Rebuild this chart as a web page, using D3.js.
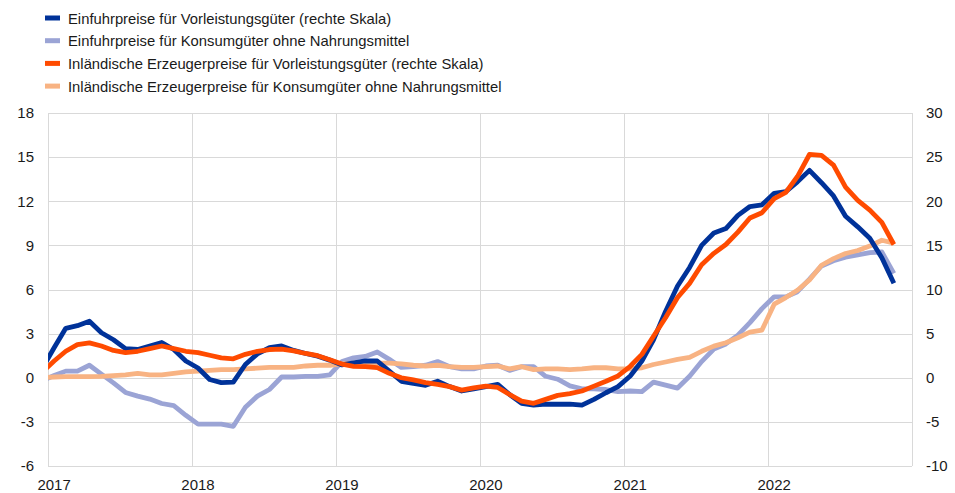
<!DOCTYPE html>
<html>
<head>
<meta charset="utf-8">
<script src="https://cdn.jsdelivr.net/npm/d3@7"></script>
<style>
  body { margin: 0; background: #fff; }
  svg { display: block; font-family: "Liberation Sans", Arial, sans-serif; }
</style>
</head>
<body>
<svg id="chart" width="955" height="493"></svg>
<script>
// monthly values, Dec 2016 .. Nov 2022 (first point sits left of the plot and is clipped)
const startMonth = new Date(2016, 11, 1);

// right scale
const importInter = [1.0, 3.4, 5.6, 5.9, 6.4, 5.1, 4.3, 3.3, 3.2, 3.6, 4.0, 3.2, 1.9,
  1.1, -0.2, -0.55, -0.5, 1.5, 2.7, 3.4, 3.6, 3.1, 2.75, 2.45, 2.0,
  1.45, 1.7, 1.9, 1.9, 0.75, -0.4, -0.65, -0.85, -0.4, -1.0, -1.5, -1.25,
  -1.0, -0.75, -1.9, -2.9, -3.1, -3.0, -3.0, -3.0, -3.1, -2.45, -1.7, -1.0,
  0.2, 1.9, 4.3, 7.5, 10.4, 12.5, 15.0, 16.4, 16.9, 18.4, 19.4, 19.6,
  20.9, 21.1, 22.2, 23.5, 22.1, 20.6, 18.3, 17.1, 15.8, 13.6, 10.7];
// left scale
const importCons = [-0.2, 0.15, 0.45, 0.45, 0.85, 0.25, -0.35, -1.0, -1.25, -1.45, -1.75, -1.9, -2.55,
  -3.15, -3.15, -3.15, -3.3, -2.0, -1.25, -0.8, 0.05, 0.05, 0.1, 0.1, 0.2,
  1.1, 1.35, 1.45, 1.75, 1.25, 0.7, 0.75, 0.85, 1.1, 0.75, 0.6, 0.6,
  0.8, 0.85, 0.5, 0.75, 0.75, 0.1, -0.1, -0.55, -0.75, -0.75, -0.8, -0.95,
  -0.9, -0.95, -0.3, -0.5, -0.7, 0.1, 1.1, 1.95, 2.3, 2.9, 3.75, 4.7,
  5.5, 5.5, 5.85, 6.7, 7.6, 7.95, 8.2, 8.35, 8.5, 8.55, 7.1];
// right scale
const domInter = [0.6, 1.9, 3.0, 3.75, 3.95, 3.6, 3.1, 2.85, 3.0, 3.3, 3.6, 3.3, 3.0,
  2.85, 2.55, 2.25, 2.15, 2.65, 3.0, 3.2, 3.25, 3.05, 2.75, 2.5, 2.05,
  1.55, 1.3, 1.25, 1.15, 0.5, 0.0, -0.25, -0.55, -0.75, -1.0, -1.4, -1.15,
  -0.95, -1.1, -1.9, -2.65, -2.9, -2.45, -2.0, -1.8, -1.5, -0.95, -0.4, 0.2,
  1.3, 2.65, 4.7, 6.8, 9.1, 10.7, 12.8, 14.1, 15.1, 16.5, 18.1, 18.7,
  20.3, 21.0, 22.8, 25.3, 25.2, 24.1, 21.6, 20.1, 19.0, 17.6, 15.1];
// left scale
const domCons = [0.0, 0.05, 0.07, 0.07, 0.07, 0.1, 0.15, 0.2, 0.3, 0.2, 0.2, 0.3, 0.4,
  0.45, 0.5, 0.55, 0.55, 0.6, 0.65, 0.7, 0.7, 0.7, 0.8, 0.85, 0.85,
  0.95, 1.0, 1.0, 1.0, 1.0, 0.95, 0.85, 0.8, 0.85, 0.75, 0.7, 0.7,
  0.75, 0.8, 0.6, 0.75, 0.55, 0.6, 0.6, 0.55, 0.6, 0.68, 0.68, 0.6,
  0.6, 0.68, 0.9, 1.07, 1.25, 1.38, 1.8, 2.15, 2.38, 2.72, 3.1, 3.24,
  5.0, 5.45, 5.95, 6.65, 7.65, 8.1, 8.45, 8.65, 8.95, 9.35, 9.15];

const leftTicks = [-6, -3, 0, 3, 6, 9, 12, 15, 18];
const rightTicks = [-10, -5, 0, 5, 10, 15, 20, 25, 30];
const years = [2017, 2018, 2019, 2020, 2021, 2022];

const series = [
  { name: "Einfuhrpreise für Konsumgüter ohne Nahrungsmittel", values: importCons, axis: "left", color: "#9ba4d5", legend: 1 },
  { name: "Inländische Erzeugerpreise für Konsumgüter ohne Nahrungsmittel", values: domCons, axis: "left", color: "#f8b383", legend: 3 },
  { name: "Einfuhrpreise für Vorleistungsgüter (rechte Skala)", values: importInter, axis: "right", color: "#003299", legend: 0 },
  { name: "Inländische Erzeugerpreise für Vorleistungsgüter (rechte Skala)", values: domInter, axis: "right", color: "#ff4b00", legend: 2 }
];

const svg = d3.select("#chart");
const m = { left: 48, right: 912, top: 113, bottom: 466 };

const x = d3.scaleTime()
  .domain([new Date(2017, 0, 1), new Date(2023, 0, 1)])
  .range([m.left, m.right]);
const yL = d3.scaleLinear().domain([-6, 18]).range([m.bottom, m.top]);
const yR = d3.scaleLinear().domain([-10, 30]).range([m.bottom, m.top]);

// middle of a month on the time axis
function midMonth(d) {
  return (x(d) + x(d3.timeMonth.offset(d, 1))) / 2;
}

// gridlines
const grid = svg.append("g").attr("class", "grid");
grid.selectAll("line.h").data(leftTicks).enter().append("line")
  .attr("x1", m.left).attr("x2", m.right)
  .attr("y1", d => Math.round(yL(d)) + 0.5).attr("y2", d => Math.round(yL(d)) + 0.5)
  .attr("stroke", "#d9d9d9").attr("stroke-width", 1);
grid.selectAll("line.v").data(years.concat([2023])).enter().append("line")
  .attr("x1", d => Math.round(x(new Date(d, 0, 1))) + 0.5)
  .attr("x2", d => Math.round(x(new Date(d, 0, 1))) + 0.5)
  .attr("y1", m.top).attr("y2", m.bottom)
  .attr("stroke", "#d9d9d9").attr("stroke-width", 1);

// axes labels (plain hyphen for negatives, as in the original)
const axisLeft = d3.axisLeft(yL).tickValues(leftTicks).tickSize(0).tickPadding(14)
  .tickFormat(d => String(d));
svg.append("g").attr("transform", `translate(${m.left},0)`).call(axisLeft)
  .call(g => g.select(".domain").remove());
const axisRight = d3.axisRight(yR).tickValues(rightTicks).tickSize(0).tickPadding(14)
  .tickFormat(d => String(d));
svg.append("g").attr("transform", `translate(${m.right},0)`).call(axisRight)
  .call(g => g.select(".domain").remove());
svg.selectAll(".tick text")
  .attr("font-size", 15).attr("fill", "#1a1a1a")
  .attr("font-family", "Liberation Sans, Arial, sans-serif");

svg.append("g").selectAll("text").data(years).enter().append("text")
  .attr("x", d => midMonth(new Date(d, 0, 1)))
  .attr("y", 490)
  .attr("text-anchor", "middle")
  .attr("font-size", 15).attr("fill", "#1a1a1a")
  .text(d => d);

// lines
svg.append("clipPath").attr("id", "plot-clip").append("rect")
  .attr("x", m.left).attr("y", 0).attr("width", m.right - m.left).attr("height", m.bottom + 10);

const lines = svg.append("g").attr("clip-path", "url(#plot-clip)");
series.forEach(s => {
  const y = s.axis === "left" ? yL : yR;
  const line = d3.line()
    .x((d, i) => midMonth(d3.timeMonth.offset(startMonth, i)))
    .y(d => y(d));
  lines.append("path")
    .datum(s.values)
    .attr("d", line)
    .attr("fill", "none")
    .attr("stroke", s.color)
    .attr("stroke-width", 4.8)
    .attr("stroke-linejoin", "round");
});

// legend
const legend = svg.append("g").selectAll("g")
  .data(series.slice().sort((a, b) => a.legend - b.legend))
  .enter().append("g")
  .attr("transform", (d, i) => `translate(45,${18 + i * 22.7})`);
legend.append("rect")
  .attr("x", 0).attr("y", -2.5).attr("width", 15).attr("height", 5)
  .attr("fill", d => d.color);
legend.append("text")
  .attr("x", 23).attr("y", 5.5)
  .attr("font-size", 14.8).attr("fill", "#1a1a1a")
  .text(d => d.name);
</script>
</body>
</html>
